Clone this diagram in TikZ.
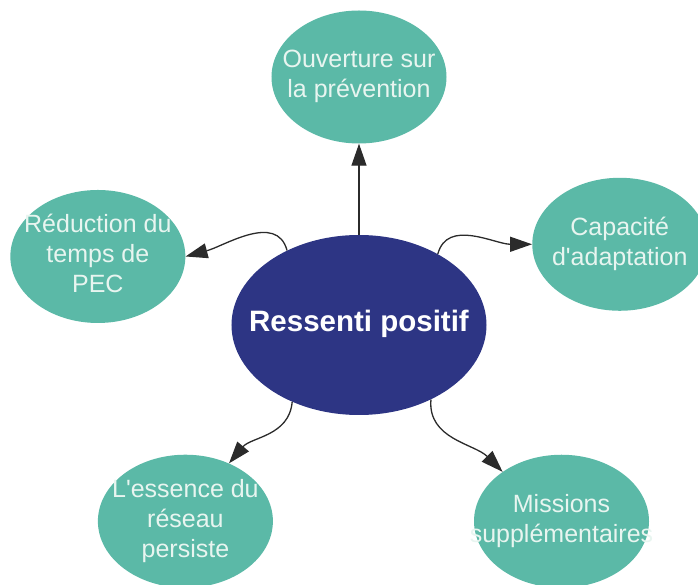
\documentclass[tikz,border=0pt]{standalone}
\usepackage{fontspec}
\setmainfont{Liberation Sans}
\usetikzlibrary{shapes.geometric,arrows.meta}
\definecolor{bubbleteal}{HTML}{5BB9A7}
\definecolor{corenavy}{HTML}{2D3584}
\definecolor{bubbletxt}{HTML}{E8F5F0}
\definecolor{linkgray}{HTML}{2B2B2B}
\newcommand\bubbletext[1]{\makebox[0pt]{\begin{tabular}{@{}c@{}}#1\end{tabular}}}
\tikzset{
  bubble/.style={ellipse, fill=bubbleteal, inner sep=0pt,
    minimum width=175pt, minimum height=133pt,
    text=bubbletxt, font=\fontsize{25}{30}\selectfont},
  core/.style={ellipse, fill=corenavy, inner sep=0pt,
    minimum width=255pt, minimum height=180pt,
    text=white, font=\bfseries\fontsize{29.5}{34}\selectfont},
}
\begin{document}
\begin{tikzpicture}[x=1pt,y=1pt]
      \useasboundingbox (-359,-260) rectangle (339,325);
      \draw
        (0,0) node[core] (ressenti){\bubbletext{Ressenti positif}}
        (90:248) node[bubble] (prevention){\bubbletext{Ouverture sur\\la prévention}}
        (165.3:270) node[bubble] (reduction){\bubbletext{Réduction du\\temps de\\PEC}}
        (17.2:273) node[bubble] (adaptation){\bubbletext{Capacité\\d\textquotesingle adaptation}}
        (228.5:262) node[bubble] (essence){\bubbletext{L\textquotesingle essence du\\réseau\\persiste}}
        (315.9:282) node[bubble] (missions){\bubbletext{Missions\\supplémentaires}};
      \begin{scope}[linkgray, line width=1.3pt, -{Triangle[length=22pt,width=15pt]}]
        \draw (ressenti) to (prevention);
        \draw (ressenti.134) to[out=105,in=15] (reduction.east);
        \draw (ressenti.42) to[out=75,in=180] (adaptation.west);
        \draw (ressenti.229) to[out=-95,in=50] (essence.53);
        \draw (ressenti.314) to[out=-95,in=135] (missions.140);
      \end{scope}
    \end{tikzpicture}
\end{document}
